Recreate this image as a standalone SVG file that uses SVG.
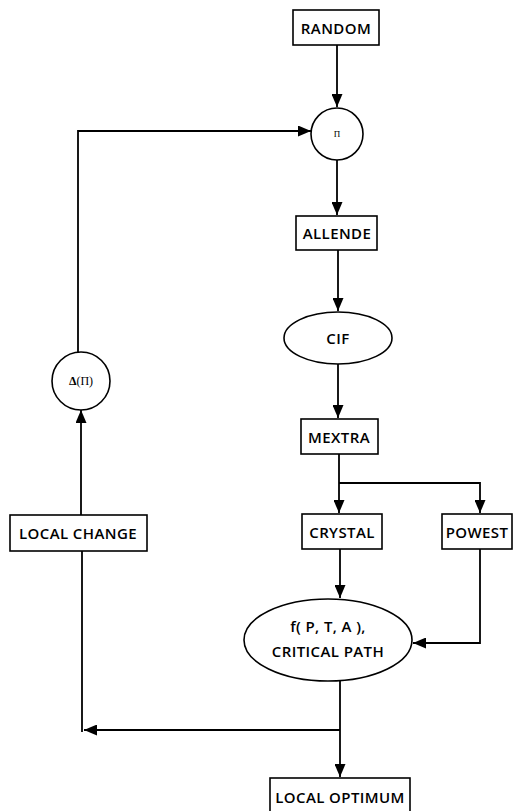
<svg xmlns="http://www.w3.org/2000/svg" width="522" height="811" viewBox="0 0 522 811">
<defs>
<marker id="ah" viewBox="0 0 13 11" refX="13" refY="5.5" markerWidth="13" markerHeight="11" markerUnits="userSpaceOnUse" orient="auto">
<path d="M0,0 L13,5.5 L0,11 Z" fill="#000"/>
</marker>
<style>
.n{fill:#fff;stroke:#000;stroke-width:1.6}
.t{font-family:"Open Sans","DejaVu Sans",sans-serif;font-weight:600;font-size:15px;letter-spacing:0.4px;text-anchor:middle;dominant-baseline:central;fill:#000}
.g{font-family:"Liberation Serif","DejaVu Serif",serif;text-anchor:middle;dominant-baseline:central;fill:#000}
.c{fill:none;stroke:#000;stroke-width:1.8}
</style>
</defs>
<rect width="522" height="811" fill="#fff"/>
<g id="connectors">
<path class="c" d="M337,45 V107" marker-end="url(#ah)"/>
<path class="c" d="M78,352 V131 H311" marker-end="url(#ah)"/>
<path class="c" d="M337,160 V215" marker-end="url(#ah)"/>
<path class="c" d="M338,250 V311" marker-end="url(#ah)"/>
<path class="c" d="M338,364 V418" marker-end="url(#ah)"/>
<path class="c" d="M339,454 V513" marker-end="url(#ah)"/>
<path class="c" d="M339,483 H480 V513" marker-end="url(#ah)"/>
<path class="c" d="M340,549 V598" marker-end="url(#ah)"/>
<path class="c" d="M480,549 V643 H413" marker-end="url(#ah)"/>
<path class="c" d="M340,681 V777" marker-end="url(#ah)"/>
<path class="c" d="M340,730 H84" marker-end="url(#ah)"/>
<path class="c" d="M82,551 V732"/>
<path class="c" d="M81,515 V410" marker-end="url(#ah)"/>
</g>
<g id="random"><rect class="n" x="293" y="10" width="86" height="35"/><text class="t" x="336" y="28">RANDOM</text></g>
<g id="pi"><circle class="n" cx="337" cy="134" r="26"/><text class="g" x="337" y="134" font-size="9">Π</text></g>
<g id="allende"><rect class="n" x="296" y="216" width="81" height="34"/><text class="t" x="337" y="233">ALLENDE</text></g>
<g id="cif"><ellipse class="n" cx="338" cy="338" rx="54" ry="26"/><text class="t" x="338" y="338">CIF</text></g>
<g id="mextra"><rect class="n" x="301" y="419" width="77" height="35"/><text class="t" x="339" y="437">MEXTRA</text></g>
<g id="crystal"><rect class="n" x="302" y="514" width="80" height="35"/><text class="t" x="342" y="532">CRYSTAL</text></g>
<g id="powest"><rect class="n" x="442" y="514" width="70" height="35"/><text class="t" x="477" y="532">POWEST</text></g>
<g id="fpta"><ellipse class="n" cx="328" cy="640" rx="84" ry="41"/><text class="t" x="328" y="626">f( P, T, A ),</text><text class="t" x="328" y="651">CRITICAL PATH</text></g>
<g id="localopt"><rect class="n" x="270" y="778" width="140" height="40"/><text class="t" x="340" y="797">LOCAL OPTIMUM</text></g>
<g id="localchange"><rect class="n" x="10" y="515" width="137" height="36"/><text class="t" x="78" y="533">LOCAL CHANGE</text></g>
<g id="delta"><circle class="n" cx="81" cy="381" r="29"/><text class="g" x="81" y="381" font-size="12"><tspan font-weight="bold">Δ</tspan>(Π)</text></g>
</svg>
